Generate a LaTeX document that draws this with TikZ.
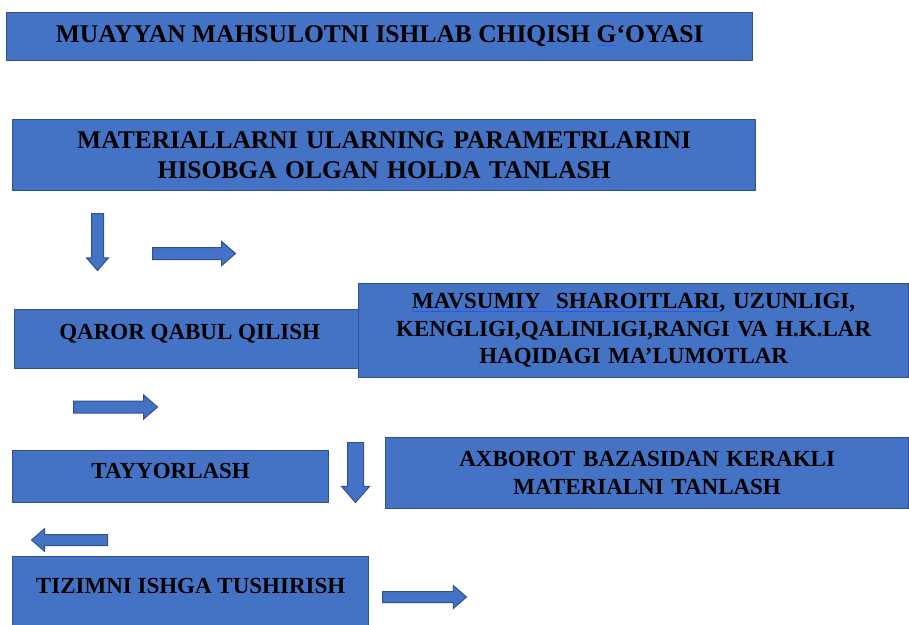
\documentclass[tikz,border=0pt]{standalone}
\usepackage{fontspec}
\setmainfont{Liberation Serif}
\usepackage{tikz}
\usetikzlibrary{shapes.arrows,positioning}
\usepackage{xcolor}
\definecolor{BoxBlue}{HTML}{4472C4}
\definecolor{BoxEdge}{HTML}{2F528F}
\definecolor{MarkBlue}{HTML}{1F5CFF}
\newcommand{\spellmark}[1]{\setbox0\hbox{#1}\rlap{\color{MarkBlue}\rule[-3.5pt]{\wd0}{1.3pt}}\box0}

\begin{document}
\begin{tikzpicture}[x=1pt,y=-1pt,
  b/.style={draw=BoxEdge,fill=BoxBlue,line width=1.3pt,anchor=north west,inner sep=0pt,align=center},
  big/.style={font=\bfseries\fontsize{25.5}{30}\selectfont},
  mid/.style={font=\bfseries\fontsize{23}{27.5}\selectfont},
  a/.style={single arrow,draw=BoxEdge,fill=BoxBlue,line width=1pt,inner xsep=0pt,inner ysep=5.5pt,
    single arrow head extend=6pt,single arrow tip angle=82,anchor=tail}]
\useasboundingbox[fill=white] (0,0) rectangle (909,624);
% boxes
\node[b,big,minimum width=746pt,minimum height=48pt,text height=16pt,text depth=4pt] (idea) at (6,12)
  {MUAYYAN MAHSULOTNI ISHLAB CHIQISH \spellmark{G}‘OYASI};
\node[b,big,minimum width=743pt,minimum height=71pt,text width=720pt] (mat) at (12,119)
  {MATERIALLARNI ULARNING PARAMETRLARINI\\HISOBGA OLGAN HOLDA TANLASH};
\node[b,mid,minimum width=350pt,minimum height=59pt,text height=16pt,text depth=15pt] (qaror) at (14,309)
  {QAROR QABUL QILISH};
\node[b,mid,minimum width=550pt,minimum height=94pt,text width=540pt] (info) at (358,283)
  {\spellmark{MAVSUMIY\ \ SHAROITLARI}, UZUNLIGI,\\KENGLIGI,QALINLIGI,RANGI VA H.K.LAR\\HAQIDAGI MA’LUMOTLAR};
\node[b,mid,minimum width=316pt,minimum height=52pt,text height=16pt,text depth=12pt] (tay) at (12,450)
  {TAYYORLASH};
\node[b,mid,minimum width=523pt,minimum height=71pt,text width=510pt] (baza) at (385,437)
  {AXBOROT BAZASIDAN KERAKLI\\MATERIALNI TANLASH};
\node[b,mid,minimum width=356pt,minimum height=80pt,text height=16pt,text depth=22pt] (tizim) at (12,556)
  {TIZIMNI ISHGA TUSHIRISH};
% block arrows
\node[a,minimum height=57pt,single arrow head extend=5pt,rotate=-90] (d1) at (97.5,213) {};
\node[a,minimum height=83pt] (r1) at (152,253.5) {};
\node[a,minimum height=84pt] (r2) at (73,407) {};
\node[a,minimum height=60pt,inner ysep=7.5pt,rotate=-90] (d2) at (355.5,442) {};
\node[a,minimum height=76pt,inner ysep=5pt,rotate=180] (l1) at (108,540) {};
\node[a,minimum height=84pt,inner ysep=5pt,single arrow head extend=6pt] (r3) at (382,597) {};
\end{tikzpicture}
\end{document}
